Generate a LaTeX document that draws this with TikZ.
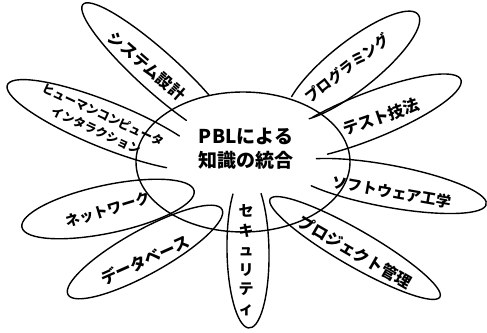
\documentclass[tikz,border=0pt]{standalone}
\usepackage{fontspec}
\setmainfont{Noto Sans CJK JP}
\tikzset{
  outline/.style={draw=black, line width=1.4pt, line cap=round},
  lbl/.style={inner sep=0pt, font=\bfseries\fontsize{#1}{#1}\selectfont},
}
\begin{document}
\begin{tikzpicture}[x=1pt,y=1pt]
\useasboundingbox (0,0) rectangle (487,332);
\fill[white] (0,0) rectangle (487,332);
% central ellipse
\draw[outline] (243,170) ellipse [x radius=107, y radius=70];
% open petals
\draw[outline, shift={(158,260)}, rotate=138] (-122:101 and 20) arc[start angle=-122, end angle=122, x radius=101, y radius=20];
\draw[outline, shift={(106.6,207)}, rotate=158] (-132:107 and 23) arc[start angle=-132, end angle=132, x radius=107, y radius=23];
\draw[outline, shift={(248,81)}, rotate=-89] (-138:77 and 21) arc[start angle=-138, end angle=138, x radius=77, y radius=21];
\draw[outline, shift={(388,146)}, rotate=-10.5] (-139:100 and 21) arc[start angle=-139, end angle=139, x radius=100, y radius=21];
\draw[outline, shift={(367,215)}, rotate=21.7] (-120:101 and 23) arc[start angle=-120, end angle=120, x radius=101, y radius=23];
\draw[outline, shift={(353,266)}, rotate=38.4] (-144:83 and 24) arc[start angle=-144, end angle=144, x radius=83, y radius=24];
% closed petals
\draw[outline, rotate around={12:(108,123)}] (108,123) ellipse [x radius=88, y radius=24];
\draw[outline, rotate around={29:(145,80)}] (145,80) ellipse [x radius=88, y radius=22];
\draw[outline, rotate around={-30:(355,84)}] (355,84) ellipse [x radius=98, y radius=18];
% texts
\node[lbl=19, align=center, font=\bfseries\fontsize{19}{24}\selectfont] (center) at (246,183) {PBLによる\\知識の統合};
\node[lbl=16, rotate=-41] (sys) at (147,266) {システム設計};
\node[lbl=12, rotate=-25, align=center, font=\bfseries\fontsize{12}{17}\selectfont] (hci) at (100,209.5) {ヒューマンコンピュータ\\インタラクション};
\node[lbl=14.5, rotate=17] (net) at (108,122) {ネットワーク};
\node[lbl=16, rotate=24] (db) at (145,72) {データベース};
\node[lbl=15, align=center, font=\bfseries\fontsize{15}{19.5}\selectfont] (sec) at (246,72) {セ\\キ\\ュ\\リ\\テ\\ィ};
\node[lbl=16, rotate=-30] (pm) at (355,80) {プロジェクト管理};
\node[lbl=15, rotate=-10] (se) at (392,140) {ソフトウェア工学};
\node[lbl=16, rotate=19] (test) at (381,215) {テスト技法};
\node[lbl=14.5, rotate=38] (prog) at (347,264) {プログラミング};
\end{tikzpicture}
\end{document}
